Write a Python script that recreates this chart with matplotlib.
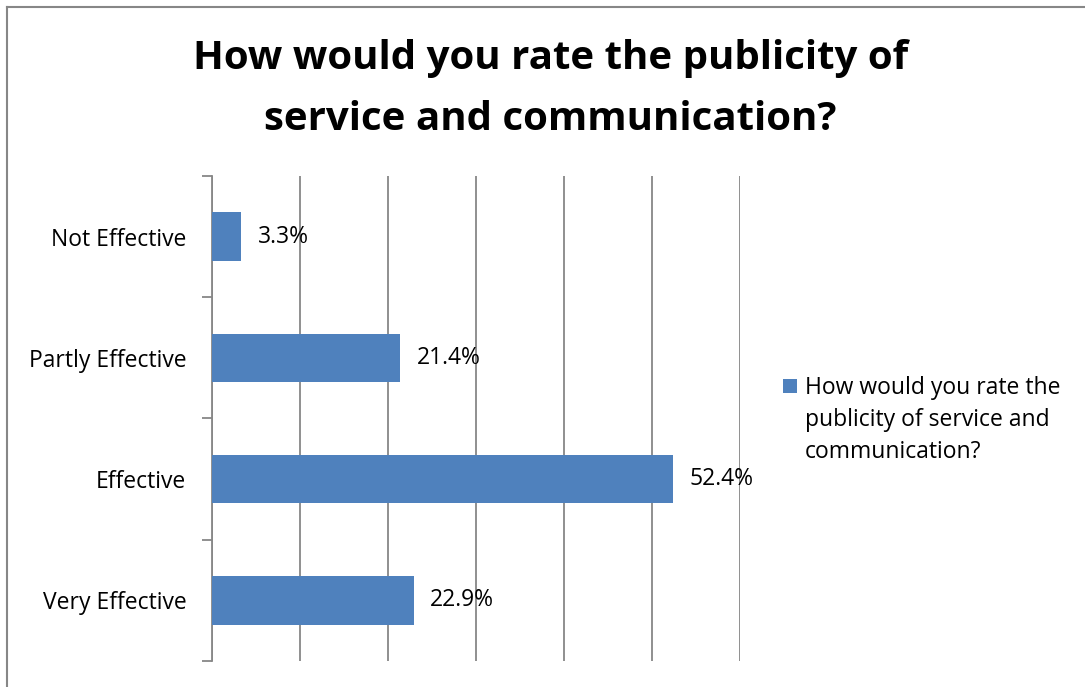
import matplotlib.pyplot as plt
from matplotlib.lines import Line2D
from matplotlib.patches import Rectangle

# survey answers, top to bottom as shown
categories = ["Not Effective", "Partly Effective", "Effective", "Very Effective"]
percentages = [3.3, 21.4, 52.4, 22.9]
series_name = "How would you rate the\npublicity of service and\ncommunication?"
title = "How would you rate the publicity of\nservice and communication?"

bar_color = "#4F81BD"
grid_color = "#878787"

plt.rcParams['font.family'] = ['Open Sans', 'DejaVu Sans']

fig = plt.figure(figsize=(10.85, 6.87), dpi=100)
ax = fig.add_axes([212 / 1085, 1 - 661 / 687, (740 - 212) / 1085, (661 - 176) / 687])

y = list(range(len(categories)))
ax.barh(y, percentages, height=0.4, color=bar_color, zorder=3)
ax.set_xlim(0, 60)
ax.set_ylim(len(categories) - 0.5, -0.5)

for yi, v in zip(y, percentages):
    ax.annotate(f"{v}%", (v, yi), xytext=(12, 0), textcoords="offset points",
                va="center", ha="left", fontsize=16.5, zorder=4)

# vertical gridlines every 10%, no x labels
ax.set_xticks(range(0, 61, 10))
ax.xaxis.grid(True, color=grid_color, linewidth=1.3, zorder=0)
ax.tick_params(axis="x", length=0, labelbottom=False)

# category labels between boundary tick marks
ax.set_yticks([i - 0.5 for i in range(len(categories) + 1)])
ax.set_yticklabels([])
ax.set_yticks(y, minor=True)
ax.set_yticklabels(categories, minor=True, fontsize=16.5)
ax.tick_params(axis="y", which="minor", length=0, pad=18.5)
ax.tick_params(axis="y", which="major", length=7, width=1.3, color=grid_color)

for side in ["top", "right", "bottom"]:
    ax.spines[side].set_visible(False)
ax.spines["left"].set_color(grid_color)
ax.spines["left"].set_linewidth(1.3)

fig.text(0.507, 1 - 89 / 687, title, ha="center", va="center", fontsize=29,
         fontweight="bold", linespacing=1.72)

# legend: square key beside the first line of the series name
fig.add_artist(Rectangle((783 / 1085, 1 - 393 / 687), 14 / 1085, 14 / 687,
                         facecolor=bar_color, edgecolor="none",
                         transform=fig.transFigure))
fig.text(805 / 1085, 1 - 376 / 687, series_name, ha="left", va="top",
         fontsize=16.5, linespacing=1.45, transform=fig.transFigure)

# outer chart frame (top and left edges)
fig.add_artist(Line2D([6.5 / 1085, 1], [1 - 6.5 / 687] * 2, color=grid_color,
                      linewidth=1.5, transform=fig.transFigure))
fig.add_artist(Line2D([6.5 / 1085] * 2, [0, 1 - 6.5 / 687], color=grid_color,
                      linewidth=1.5, transform=fig.transFigure))

fig.savefig("out.png", dpi=100)
